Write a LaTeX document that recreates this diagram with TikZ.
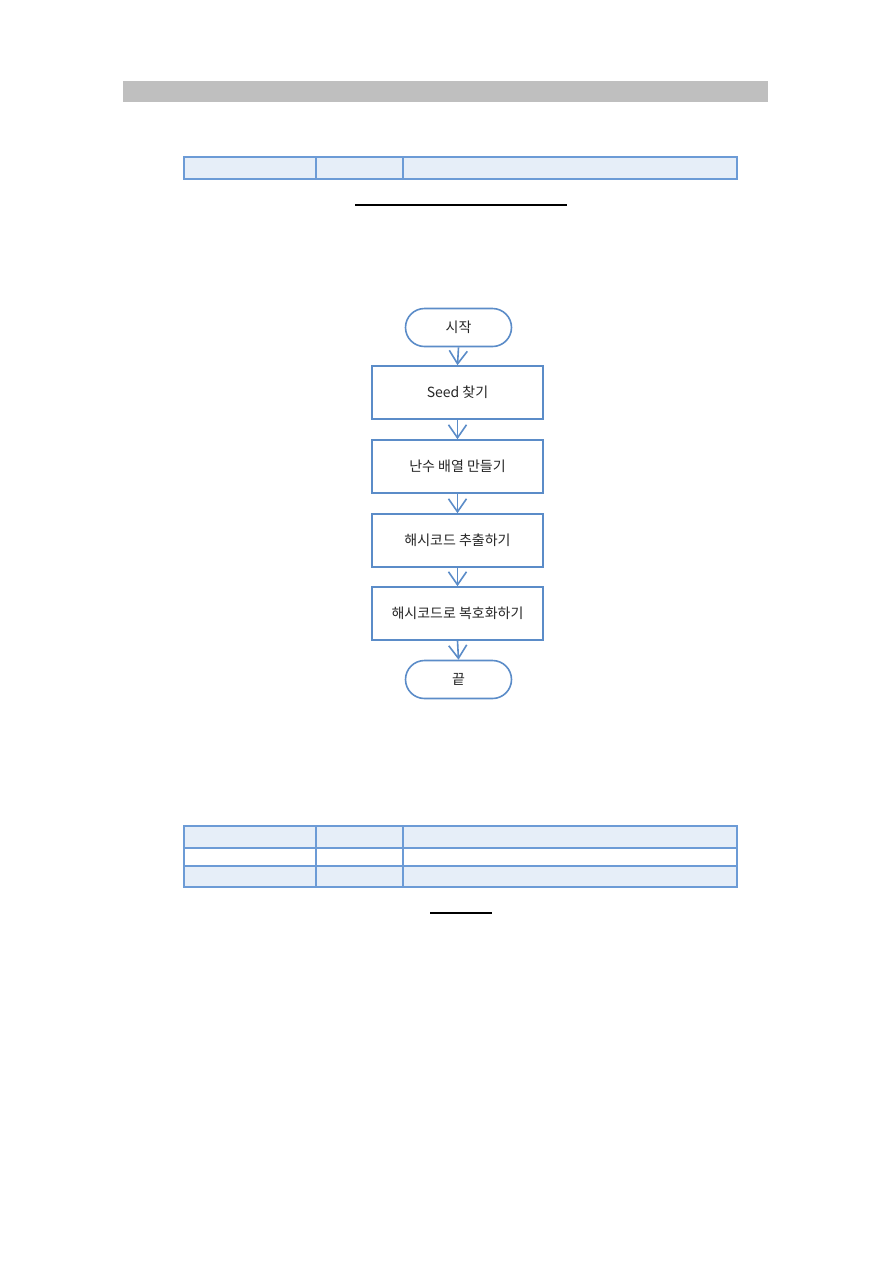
\documentclass[tikz,border=0pt]{standalone}
\usepackage{fontspec}
\newfontfamily\kr{Noto Sans CJK KR}
\usetikzlibrary{arrows.meta}
\definecolor{barg}{HTML}{BFBFBF}
\definecolor{tfill}{HTML}{E6EEF8}
\definecolor{tline}{HTML}{6C9BD6}
\definecolor{fline}{HTML}{5B8CC8}
\definecolor{txt}{HTML}{262626}
\tikzset{
  proc/.style={draw=fline, line width=1.6pt, fill=white, minimum width=171pt, minimum height=53pt, inner sep=0pt, font=\kr\fontsize{14}{16}\selectfont, text=txt},
  term/.style={proc, minimum width=106pt, minimum height=38pt, rounded corners=19pt},
  flow/.style={draw=fline, line width=1.6pt, -{Straight Barb[length=13pt,width=18pt,line width=1.6pt]}},
  cell/.style={draw=tline, line width=1.1pt},
  uline/.style={draw=black, line width=1.1pt}
}
\begin{document}
\begin{tikzpicture}[x=1pt,y=-1pt]
\useasboundingbox (0,0) rectangle (893,1262);
\fill[white] (0,0) rectangle (893,1262);
% header bar
\fill[barg] (123,81) rectangle (768,102);
% top table
\filldraw[cell, fill=tfill] (184,157) rectangle (737,179);
\draw[cell] (316,157) -- (316,179);
\draw[cell] (403,157) -- (403,179);
\draw[uline] (355,205) -- (567,205);
% flowchart
\node[term] (start) at (458.5,327.5) {시작};
\node[proc] (s1) at (457.5,392.5) {Seed 찾기};
\node[proc] (s2) at (457.5,466.5) {난수 배열 만들기};
\node[proc] (s3) at (457.5,540.5) {해시코드 추출하기};
\node[proc] (s4) at (457.5,613.5) {해시코드로 복호화하기};
\node[term] (end) at (458.5,679.5) {끝};
\draw[flow] (start.south) -- (s1.north);
\draw[flow] (s1.south) -- (s2.north);
\draw[flow] (s2.south) -- (s3.north);
\draw[flow] (s3.south) -- (s4.north);
\draw[flow] (s4.south) -- (end.north);
% bottom table
\fill[tfill] (184,826) rectangle (737,848);
\fill[tfill] (184,866) rectangle (737,887);
\draw[cell] (184,826) rectangle (737,887);
\draw[cell] (184,848) -- (737,848);
\draw[cell] (184,866) -- (737,866);
\draw[cell] (316,826) -- (316,887);
\draw[cell] (403,826) -- (403,887);
\draw[uline] (430,913) -- (492,913);
\end{tikzpicture}
\end{document}
